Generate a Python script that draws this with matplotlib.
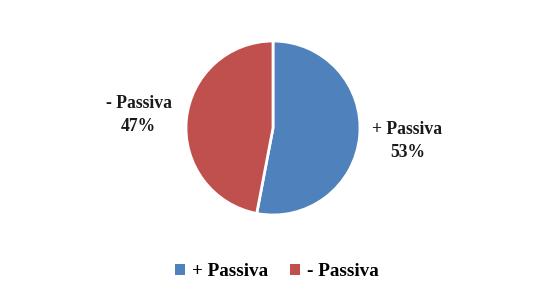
import matplotlib
matplotlib.use("Agg")
import matplotlib.pyplot as plt
from matplotlib.patches import Patch

categories = ["+ Passiva", "- Passiva"]
values = [53, 47]
colors = ["#4F81BD", "#C0504D"]

plt.rcParams['font.family'] = ['Liberation Serif', 'DejaVu Serif']

W, H = 540, 306
fig = plt.figure(figsize=(W/100, H/100), dpi=100)
cx, cy, r = 273, 128, 87
ax = fig.add_axes([(cx - r)/W, (H - cy - r)/H, 2*r/W, 2*r/H])

labels = [f"{c}\n{v}%" for c, v in zip(categories, values)]
wedges, texts = ax.pie(values, colors=colors, startangle=90, counterclock=False,
                       radius=1, labels=labels, labeldistance=1.55,
                       wedgeprops=dict(edgecolor="white", linewidth=2),
                       textprops=dict(fontsize=12.7, fontweight="bold", color="#1a1a1a"))
for t in texts:
    t.set_ha("center")
    t.set_va("center")
    t.set_linespacing(1.45)
ax.set_xlim(-1, 1)
ax.set_ylim(-1, 1)
ax.set_aspect("equal")

handles = [Patch(facecolor=c, edgecolor="none") for c in colors]
fig.legend(handles, categories, loc="center", bbox_to_anchor=(277/W, 1 - 272/H),
           ncol=2, frameon=False, prop=dict(size=13.8, weight="bold"),
           handlelength=0.52, handleheight=0.52, handletextpad=0.35, columnspacing=1.15)

fig.savefig("out.png", dpi=100)
